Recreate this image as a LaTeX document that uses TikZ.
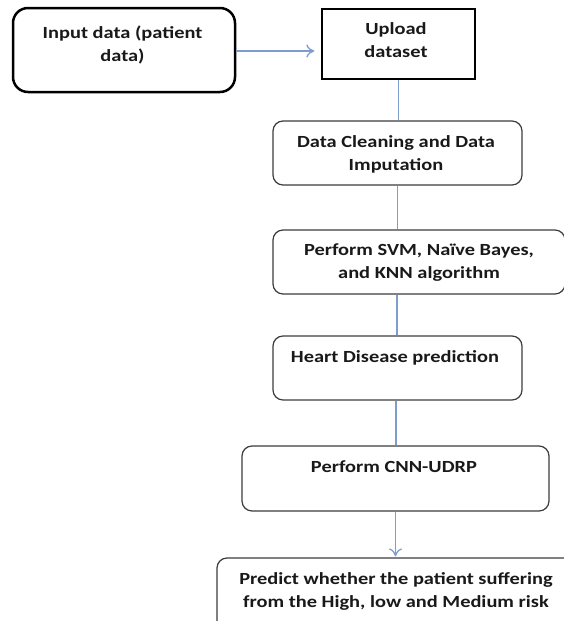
\documentclass[tikz,border=0pt]{standalone}
\usepackage{fontspec}
\newfontfamily\boxfont[FakeStretch=1.2]{Carlito}
\usetikzlibrary{arrows.meta}
\definecolor{linkblue}{RGB}{125,157,207}
\definecolor{boxgrey}{RGB}{60,60,60}
\tikzset{
  box/.style={draw=boxgrey, line width=1.2pt, rounded corners=10pt, inner sep=0pt, fill=white},
  sqbox/.style={draw=black, line width=1.3pt, inner sep=0pt, fill=white},
  thickbox/.style={draw=black, line width=2.5pt, rounded corners=15pt, inner sep=0pt, fill=white},
  txt/.style={font=\boxfont\bfseries\fontsize{17}{23}\selectfont, align=center, inner sep=0pt, anchor=base, text=black!90},
  link/.style={draw=linkblue, line width=1.6pt},
  arr/.style={link, -{To[length=8pt,width=13pt,line width=1.3pt]}}
}
\begin{document}
\begin{tikzpicture}[x=1pt,y=-1pt]
\useasboundingbox (0,0) rectangle (563,621);
\node[thickbox, minimum width=222pt, minimum height=84pt] (inp) at (124,50) {};
\node[sqbox, minimum width=153pt, minimum height=70pt] (up) at (398.5,44) {};
\node[box, minimum width=249pt, minimum height=64pt] (clean) at (397.5,153) {};
\node[box, minimum width=292pt, minimum height=64pt] (svm) at (419,262) {};
\node[box, minimum width=249pt, minimum height=64pt] (heart) at (397.5,368) {};
\node[box, minimum width=307pt, minimum height=65pt] (cnn) at (395.5,478.5) {};
\node[box, minimum width=358pt, minimum height=77pt] (pred) at (396,596.5) {};

% anchor=base is the baseline of the last line
\node[txt] (tinp) at (122.5,61) {Input data (patient\\data)};
\node[txt] (tup) at (396,57) {Upload\\dataset};
\node[txt] (tclean) at (396,170) {Data Cleaning and Data\\Imputation};
\node[txt] (tsvm) at (419,278) {Perform SVM, Naïve Bayes,\\and KNN algorithm};
\node[txt] (theart) at (395,362) {Heart Disease prediction};
\node[txt] (tcnn) at (394,472) {Perform CNN-UDRP};
\node[txt] (tpred) at (396,607) {Predict whether the patient suffering\\from the High, low and Medium risk};

\draw[arr] ([yshift=-1pt]inp.east) -- ([yshift=-7pt,xshift=-7pt]up.west);
\draw[link] (up.south) -- (up.south |- clean.north);
\draw[link] (clean.south) -- (clean.south |- svm.north);
\draw[link] ([xshift=-22pt]svm.south) -- ([xshift=-22pt]svm.south |- heart.north);
\draw[link] ([xshift=-1.5pt]heart.south) -- ([xshift=-1.5pt]heart.south |- cnn.north);
\draw[arr] (cnn.south) -- ([yshift=1pt]cnn.south |- pred.north);
\end{tikzpicture}
\end{document}
